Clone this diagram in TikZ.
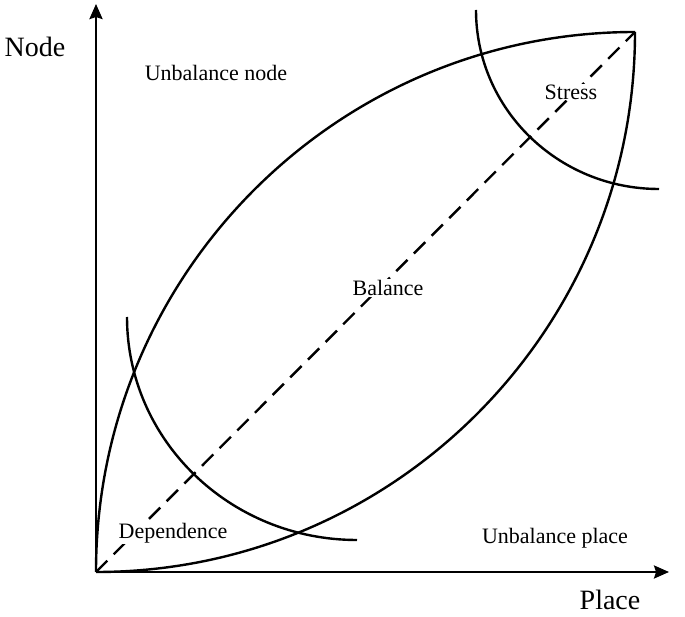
\documentclass[tikz,border=0pt]{standalone}
\usepackage{fontspec}
\setmainfont{Liberation Serif}
\usetikzlibrary{arrows.meta}

\begin{document}
\begin{tikzpicture}[x=1pt,y=1pt]
\tikzset{curve/.style={line width=2.4pt}}
\tikzset{axis/.style={line width=2.4pt,-{Stealth[length=15pt,width=13pt,inset=2pt]}}}
\tikzset{zone/.style={fill=white,inner sep=1pt,font=\fontsize{22}{25}\selectfont}}
\tikzset{axislabel/.style={font=\fontsize{28}{31}\selectfont}}
\useasboundingbox (0,0) rectangle (685,616);
% axes and corners
\coordinate (O) at (96,44);
\coordinate (T) at (635,584);
\coordinate (ytip) at (96,612);
\coordinate (xtip) at (669,44);
\draw[axis] (O) -- (ytip);
\draw[axis] (O) -- (xtip);
% lens
\draw[curve] (O) arc[start angle=180,end angle=90,x radius=539,y radius=540];
\draw[curve] (O) arc[start angle=270,end angle=360,x radius=539,y radius=540];
% dependence and stress arcs
\coordinate (depstart) at (127,299);
\coordinate (strstart) at (476,606);
\draw[curve] (depstart) arc[start angle=180,end angle=270,x radius=230,y radius=223];
\draw[curve] (strstart) arc[start angle=180,end angle=270,x radius=183,y radius=179];
\draw[line width=2.4pt,dash pattern=on 16pt off 9pt] (O) -- (T);
% labels
\node[axislabel] (nodelbl) at (35,569) {Node};
\node[axislabel] (placelbl) at (610,16) {Place};
\node[zone] (unnode) at (216,543) {Unbalance node};
\node[zone] (stress) at (571,524) {Stress};
\node[zone] (balance) at (388,328) {Balance};
\node[zone] (depend) at (173,83) {Dependence};
\node[zone] (unplace) at (555,78) {Unbalance place};
\end{tikzpicture}
\end{document}
